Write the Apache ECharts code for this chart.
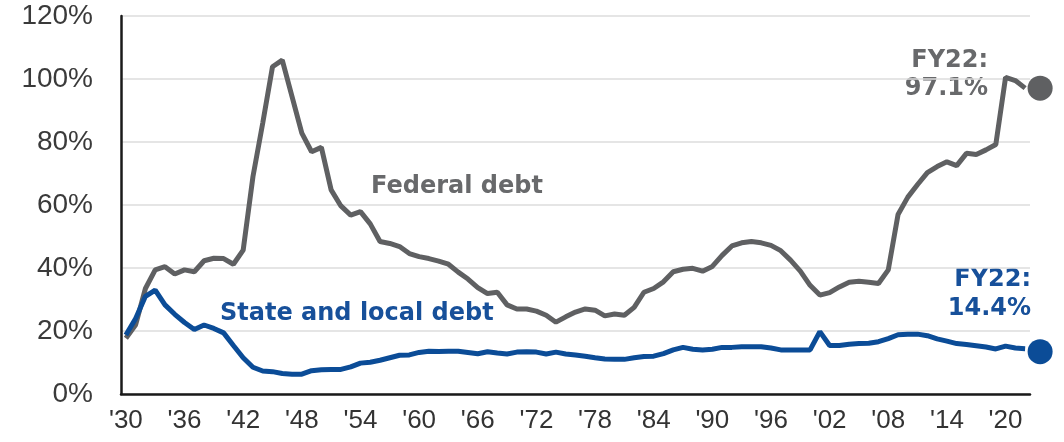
<!DOCTYPE html>
<html>
<head>
<meta charset="utf-8">
<script src="https://cdn.jsdelivr.net/npm/echarts@6/dist/echarts.min.js"></script>
<style>
html,body{margin:0;padding:0;background:#fff;}
#chart{width:1064px;height:442px;}
</style>
</head>
<body>
<div id="chart"></div>
<script>
// Fiscal years 1930..2022
const years = [];
for (let y = 1930; y <= 2022; y++) years.push(String(y));

// Federal debt held by the public, % of GDP
const federalDebt = [
  17.7, 22.0, 33.5, 39.4, 40.4, 38.1, 39.4, 38.8, 42.3, 43.1,
  43.0, 41.2, 45.7, 69.0, 86.0, 103.9, 106.0, 94.4, 82.8, 76.9,
  78.3, 64.8, 59.7, 56.8, 57.9, 54.0, 48.4, 47.8, 46.8, 44.6,
  43.6, 43.0, 42.2, 41.2, 38.7, 36.5, 33.8, 31.9, 32.3, 28.3,
  27.0, 27.0, 26.3, 25.0, 22.8, 24.5, 26.0, 27.0, 26.6, 24.8,
  25.4, 25.0, 27.5, 32.3, 33.5, 35.6, 38.8, 39.6, 39.9, 39.0,
  40.5, 44.0, 47.0, 48.0, 48.4, 48.0, 47.2, 45.5, 42.5, 39.0,
  34.5, 31.4, 32.2, 34.0, 35.5, 35.8, 35.5, 35.1, 39.4, 57.0,
  62.5, 66.5, 70.3, 72.2, 73.7, 72.5, 76.4, 76.0, 77.5, 79.2,
  100.5, 99.5, 97.1
];

// State and local debt, % of GDP
const stateLocalDebt = [
  18.7, 24.0, 31.0, 33.0, 28.3, 25.3, 22.7, 20.5, 21.9, 20.8,
  19.4, 15.4, 11.5, 8.5, 7.3, 7.1, 6.5, 6.3, 6.3, 7.4,
  7.7, 7.8, 7.8, 8.6, 9.8, 10.1, 10.7, 11.5, 12.3, 12.4,
  13.2, 13.6, 13.5, 13.6, 13.6, 13.2, 12.8, 13.4, 13.0, 12.7,
  13.3, 13.4, 13.3, 12.7, 13.3, 12.7, 12.4, 12.0, 11.5, 11.1,
  11.0, 11.0, 11.5, 11.9, 12.0, 12.8, 14.0, 14.8, 14.2, 14.0,
  14.2, 14.8, 14.8, 15.0, 15.0, 15.0, 14.6, 14.0, 14.0, 14.0,
  14.0, 19.8, 15.4, 15.4, 15.8, 16.0, 16.1, 16.6, 17.6, 18.8,
  19.0, 19.0, 18.5, 17.5, 16.8, 16.0, 15.7, 15.3, 14.9, 14.3,
  15.2, 14.6, 14.4
];

const yTicks = [0, 20, 40, 60, 80, 100, 120];
const seriesNames = ['Federal debt', 'State and local debt'];
const endLabels = [['FY22:', '97.1%'], ['FY22:', '14.4%']];

const GRAY = '#5f6062';
const GRAY_TXT = '#68696b';
const BLUE = '#0b4c97';
const BLUE_TXT = '#17509a';
const annFont = 'bold 24px "DejaVu Sans"';

const lastIdx = years.length - 1;

const chart = echarts.init(document.getElementById('chart'), null, {renderer: 'canvas'});
chart.setOption({
  animation: false,
  backgroundColor: '#ffffff',
  grid: {left: 121, right: 34, top: 16, bottom: 48, containLabel: false},
  xAxis: {
    type: 'category',
    data: years,
    boundaryGap: true,
    axisLine: {lineStyle: {color: '#1a1a1a', width: 2.5}},
    axisTick: {interval: 5, length: 7, lineStyle: {color: '#1a1a1a', width: 2}},
    axisLabel: {
      interval: 5,
      margin: 14,
      color: '#333333',
      fontFamily: '"Liberation Sans", Arial, sans-serif',
      fontSize: 26,
      formatter: function (v) { return "'" + v.slice(2); }
    },
    splitLine: {show: false}
  },
  yAxis: {
    type: 'value',
    min: yTicks[0],
    max: yTicks[yTicks.length - 1],
    interval: 20,
    axisLine: {show: true, lineStyle: {color: '#1a1a1a', width: 2.5}},
    axisTick: {show: false},
    axisLabel: {
      margin: 28,
      color: '#3a3a3a',
      fontFamily: '"Liberation Sans", Arial, sans-serif',
      fontSize: 28,
      formatter: '{value}%'
    },
    splitLine: {show: true, lineStyle: {color: '#dcdcdc', width: 1.5}}
  },
  series: [
    {
      name: seriesNames[0], type: 'line', data: federalDebt,
      symbol: 'none', lineStyle: {color: GRAY, width: 5}, z: 3
    },
    {
      name: seriesNames[1], type: 'line', data: stateLocalDebt,
      symbol: 'none', lineStyle: {color: BLUE, width: 5}, z: 3
    },
    {
      type: 'scatter', clip: false, z: 4,
      data: [[years[lastIdx], federalDebt[lastIdx]]],
      symbol: 'circle', symbolSize: 25, symbolOffset: [15, 0],
      itemStyle: {color: GRAY, opacity: 1}
    },
    {
      type: 'scatter', clip: false, z: 4,
      data: [[years[lastIdx], stateLocalDebt[lastIdx]]],
      symbol: 'circle', symbolSize: 25, symbolOffset: [15, 3],
      itemStyle: {color: BLUE, opacity: 1}
    }
  ],
  graphic: [
    {type: 'text', x: 371, y: 187, style: {text: seriesNames[0], font: annFont, fill: GRAY_TXT, textAlign: 'left', textVerticalAlign: 'middle'}},
    {type: 'text', x: 220, y: 314, style: {text: seriesNames[1], font: annFont, fill: BLUE_TXT, textAlign: 'left', textVerticalAlign: 'middle'}},
    {type: 'text', x: 988, y: 61, style: {text: endLabels[0][0], font: annFont, fill: GRAY_TXT, textAlign: 'right', textVerticalAlign: 'middle'}},
    {type: 'text', x: 988, y: 89, style: {text: endLabels[0][1], font: annFont, fill: GRAY_TXT, textAlign: 'right', textVerticalAlign: 'middle'}},
    {type: 'text', x: 1031, y: 280, style: {text: endLabels[1][0], font: annFont, fill: BLUE_TXT, textAlign: 'right', textVerticalAlign: 'middle'}},
    {type: 'text', x: 1031, y: 309, style: {text: endLabels[1][1], font: annFont, fill: BLUE_TXT, textAlign: 'right', textVerticalAlign: 'middle'}}
  ]
});
</script>
</body>
</html>
